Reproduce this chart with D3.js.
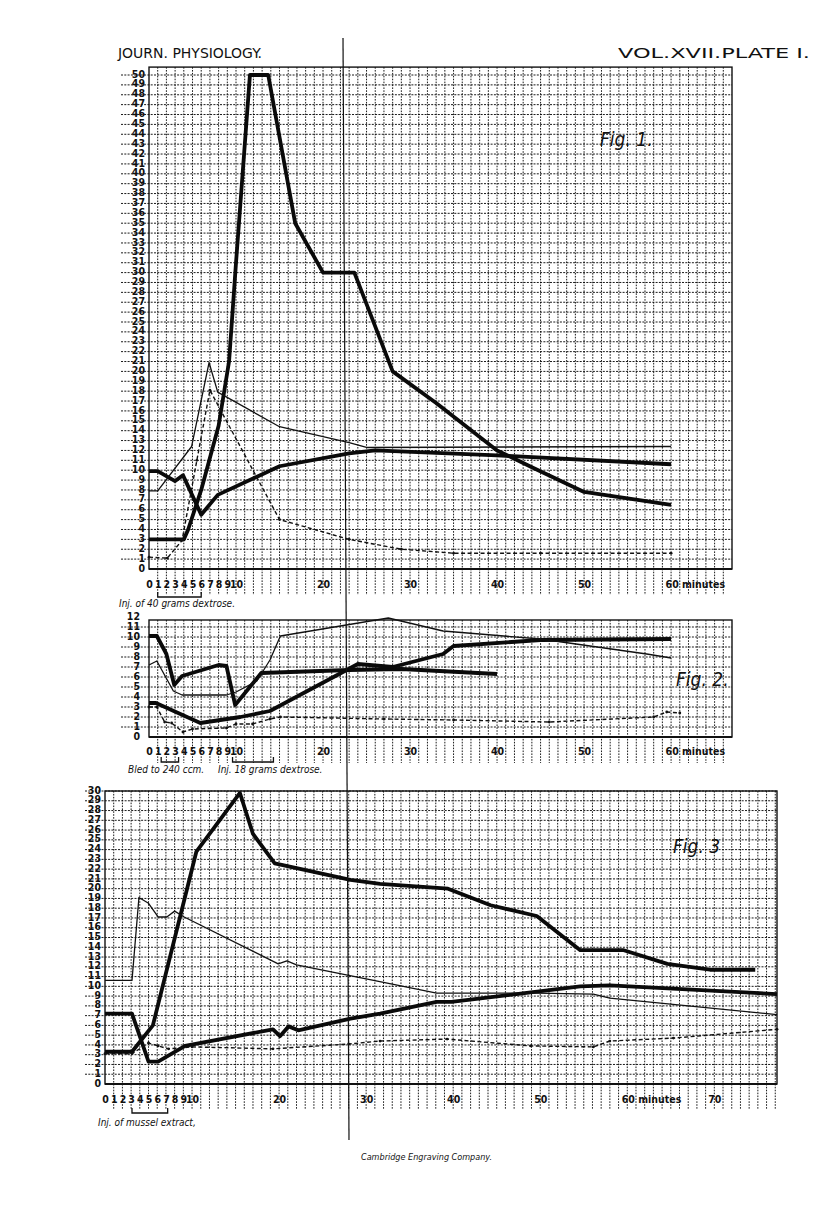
<!DOCTYPE html>
<html>
<head>
<meta charset="utf-8">
<script src="https://cdn.jsdelivr.net/npm/d3@7"></script>
<style>
  body { margin: 0; background: #fff; }
  svg { display: block; }
  .tick text { font-family: "DejaVu Sans Condensed", "Liberation Sans Narrow", "DejaVu Sans", sans-serif; font-weight: bold; fill: #111; }
  .note { font-family: "DejaVu Sans Condensed", "DejaVu Sans", sans-serif; font-style: italic; fill: #111; }
</style>
</head>
<body>
<svg width="816" height="1215"></svg>
<script>
// Fig. 1 : injection of 40 grams dextrose (minutes, value)
var fig1Big  = [[0,3],[4,3],[4.5,4],[6,8],[8,14.5],[9.2,21],[10,31],[11.6,50],[13.7,50],[16.8,35],[20,30],[23.6,30],[28,20],[33,16.8],[40,12],[44,10.3],[50,7.8],[60,6.5]];
var fig1Rise = [[0,9.9],[1,9.9],[3,8.9],[3.9,9.5],[6,5.5],[7.9,7.5],[15,10.4],[23,11.7],[26,12],[40,11.5],[60,10.6]];
var fig1Thin = [[0,7.9],[1,7.9],[4.9,12.4],[6.9,20.9],[7.9,17.9],[15,14.4],[23,12.8],[25,12.3],[60,12.4]];
var fig1Dash = [[0,1.2],[2.1,1.1],[3.8,2.9],[5.5,11],[7,18.1],[15,5],[23,3],[29,2],[35,1.6],[45,1.6],[60,1.6]];

// Fig. 2 : bled to 240 ccm, then 18 grams dextrose
var fig2Top    = [[0,10.1],[0.9,10.1],[2,8.3],[2.9,5.2],[3.8,6.1],[8,7.2],[8.9,7.1],[9.9,3.2],[12.9,6.4],[23,6.7],[29,6.8],[40,6.3]];
var fig2Bottom = [[0,3.4],[0.8,3.4],[5.9,1.4],[10.5,2.0],[13.9,2.6],[22.5,6.6],[24,7.3],[28,7.0],[33.8,8.3],[35,9.1],[45,9.7],[60,9.8]];
var fig2Thin   = [[0,7.2],[0.9,7.6],[2.8,4.6],[3.8,4.2],[8.9,4.2],[10,4.5],[12.4,5.6],[13.9,7.7],[15.1,10.1],[27.5,11.9],[33.8,10.6],[45,9.8],[57.2,8.3],[60,7.9]];
var fig2Dash   = [[0,3.0],[0.9,3.0],[1.8,1.5],[2.6,1.4],[3.9,0.5],[5,0.8],[8.9,0.9],[10,1.3],[11.9,1.3],[13.9,1.8],[15.1,2.0],[27,1.8],[35,1.7],[46,1.5],[58,2.0],[59.5,2.5],[61,2.4]];

// Fig. 3 : injection of mussel extract
var fig3Big  = [[0,3.3],[3.1,3.3],[5.5,6],[10.5,23.8],[15.5,29.8],[17,25.6],[19.5,22.6],[28.2,20.9],[31.6,20.5],[39.4,20],[44.3,18.3],[49.6,17.2],[54.6,13.7],[59.6,13.7],[64.6,12.3],[69.5,11.7],[74.7,11.7]];
var fig3Low  = [[0,7.2],[3.1,7.2],[5,2.3],[6.1,2.3],[9.2,3.9],[19.3,5.6],[20.1,4.9],[21.1,5.9],[22.2,5.5],[28.2,6.7],[31.6,7.2],[38.1,8.4],[39.8,8.4],[54.6,10],[58,10.1],[77.2,9.2]];
var fig3Thin = [[0,10.6],[3.1,10.6],[3.9,19.1],[5,18.5],[6.1,17.1],[7.1,17.1],[8,17.7],[9.1,17.1],[19.9,12.3],[20.9,12.6],[22,12.2],[32,10.4],[38.1,9.3],[49.6,9.3],[56.1,9.2],[58,8.8],[77.2,7.1]];
var fig3Dash = [[0,3.1],[3.1,3.1],[5,4.2],[6.1,3.9],[7.3,3.6],[10,3.8],[19.3,3.6],[28,4.1],[31.6,4.4],[39.3,4.6],[48.9,3.9],[56.1,3.8],[58,4.4],[65.3,4.7],[77.2,5.6]];

var minuteTicks12 = [0,1,2,3,4,5,6,7,8,9,10,20,30,40,50,60];
var minuteTicks3  = [0,1,2,3,4,5,6,7,8,9,10,20,30,40,50,60,70];

var svg = d3.select("svg");
svg.append("rect").attr("width", 816).attr("height", 1215).attr("fill", "#fff");

// draws one sheet of ruled paper with its curves
function panel(o) {
  var g = svg.append("g");
  var x = o.x, y = o.y;
  var x0 = x(0), x1 = x(o.tMax), yb = y(0), yt = y(o.vTop);

  // horizontal rulings, running out through the value labels
  g.append("g").selectAll("line").data(d3.range(1, Math.floor(o.vTop) + 1)).enter().append("line")
    .attr("x1", x0 - o.labelRun).attr("x2", x1)
    .attr("y1", function(d) { return y(d); }).attr("y2", function(d) { return y(d); })
    .attr("stroke", "#000").attr("stroke-width", 0.9).attr("stroke-dasharray", "2,1.3");

  // vertical rulings, running below the axis through the minute labels
  g.append("g").selectAll("line").data(d3.range(1, o.tMax)).enter().append("line")
    .attr("x1", function(d) { return x(d); }).attr("x2", function(d) { return x(d); })
    .attr("y1", yt).attr("y2", yb + 26)
    .attr("stroke", "#000").attr("stroke-width", 0.9).attr("stroke-dasharray", "1.6,1.3");

  g.append("rect").attr("x", x0).attr("y", yt).attr("width", x1 - x0).attr("height", yb - yt)
    .attr("fill", "none").attr("stroke", "#111").attr("stroke-width", 1.4);
  g.append("line").attr("x1", x0).attr("x2", x1).attr("y1", yb).attr("y2", yb)
    .attr("stroke", "#111").attr("stroke-width", 1.8);

  // value labels
  var ya = g.append("g").attr("transform", "translate(" + (x0 - o.labelGap) + ",0)")
    .call(d3.axisLeft(y).tickValues(d3.range(0, o.vLabelMax + 1)).tickSize(0).tickPadding(0).tickFormat(d3.format("d")));
  ya.select(".domain").remove();
  ya.selectAll("text").attr("font-size", 10.5).attr("dy", "0.2em");

  // minute labels
  var xa = g.append("g").attr("transform", "translate(0," + (yb + o.tickDrop) + ")")
    .call(d3.axisBottom(x).tickValues(o.ticks).tickSize(0).tickPadding(0).tickFormat(d3.format("d")));
  xa.select(".domain").remove();
  xa.selectAll("text").attr("font-size", 10.5).attr("dy", "0.7em");
  xa.selectAll(".tick").filter(function(d) { return d === 60; }).select("text")
    .attr("text-anchor", "start").attr("x", -6).text("60 minutes");

  var line = d3.line().x(function(d) { return x(d[0]); }).y(function(d) { return y(d[1]); });
  o.thick.forEach(function(s) {
    g.append("path").datum(s).attr("d", line).attr("fill", "none")
      .attr("stroke", "#0a0a0a").attr("stroke-width", 3.8).attr("stroke-linejoin", "round");
  });
  o.thin.forEach(function(s) {
    g.append("path").datum(s).attr("d", line).attr("fill", "none")
      .attr("stroke", "#111").attr("stroke-width", 1.3).attr("stroke-linejoin", "round");
  });
  o.dash.forEach(function(s) {
    g.append("path").datum(s).attr("d", line).attr("fill", "none")
      .attr("stroke", "#111").attr("stroke-width", 1.4).attr("stroke-dasharray", "4,2.5");
    g.append("g").selectAll("circle").data(s).enter().append("circle")
      .attr("cx", function(d) { return x(d[0]); }).attr("cy", function(d) { return y(d[1]); })
      .attr("r", 1.4).attr("fill", "#111");
  });

  // injection brackets and notes
  o.brackets.forEach(function(b) {
    var by = yb + o.bracketDrop;
    g.append("path")
      .attr("d", "M" + x(b[0]) + "," + (by - 5) + "V" + by + "H" + x(b[1]) + "V" + (by - 5))
      .attr("fill", "none").attr("stroke", "#111").attr("stroke-width", 1.3);
  });
  o.notes.forEach(function(n) {
    g.append("text").attr("class", "note").attr("x", n[0]).attr("y", yb + o.noteDrop)
      .attr("font-size", 10).text(n[1]);
  });

  g.append("text").attr("class", "note").attr("x", o.figAt[0]).attr("y", o.figAt[1])
    .attr("font-size", 19).text(o.fig);
  return g;
}

var xTop = d3.scaleLinear().domain([0, 67]).range([149, 732]);

panel({
  x: xTop, y: d3.scaleLinear().domain([0, 50]).range([569, 75]),
  tMax: 67, vTop: 50.8, vLabelMax: 50, labelRun: 28, labelGap: 4, tickDrop: 12,
  ticks: minuteTicks12,
  thick: [fig1Big, fig1Rise], thin: [fig1Thin], dash: [fig1Dash],
  brackets: [[1, 6]], bracketDrop: 28, noteDrop: 38,
  notes: [[119, "Inj. of 40 grams dextrose."]],
  fig: "Fig. 1.", figAt: [600, 146]
});

panel({
  x: xTop, y: d3.scaleLinear().domain([0, 12]).range([737, 617]),
  tMax: 67, vTop: 11.7, vLabelMax: 12, labelRun: 28, labelGap: 9, tickDrop: 11,
  ticks: minuteTicks12,
  thick: [fig2Top, fig2Bottom], thin: [fig2Thin], dash: [fig2Dash],
  brackets: [[1.4, 3.4], [9.6, 14.3]], bracketDrop: 25, noteDrop: 36,
  notes: [[128, "Bled to 240 ccm."], [218, "Inj. 18 grams dextrose."]],
  fig: "Fig. 2.", figAt: [676, 686]
});

panel({
  x: d3.scaleLinear().domain([0, 77.2]).range([105, 777]),
  y: d3.scaleLinear().domain([0, 30]).range([1084, 791]),
  tMax: 77.2, vTop: 30, vLabelMax: 30, labelRun: 20, labelGap: 4, tickDrop: 12,
  ticks: minuteTicks3,
  thick: [fig3Big, fig3Low], thin: [fig3Thin], dash: [fig3Dash],
  brackets: [[3.1, 7.2]], bracketDrop: 29, noteDrop: 42,
  notes: [[98, "Inj. of mussel extract,"]],
  fig: "Fig. 3", figAt: [673, 853]
});

// plate heading and engraver's line
svg.append("text").attr("x", 118).attr("y", 58)
  .attr("font-family", "'DejaVu Sans Condensed', 'DejaVu Sans', sans-serif").attr("font-size", 14)
  .attr("textLength", 144).attr("lengthAdjust", "spacingAndGlyphs").attr("fill", "#111").text("JOURN. PHYSIOLOGY.");
svg.append("text").attr("x", 618).attr("y", 58)
  .attr("font-family", "'DejaVu Sans Condensed', 'DejaVu Sans', sans-serif").attr("font-size", 14)
  .attr("textLength", 192).attr("lengthAdjust", "spacingAndGlyphs").attr("fill", "#111").text("VOL.XVII.PLATE I.");
svg.append("text").attr("class", "note").attr("x", 361).attr("y", 1160)
  .attr("font-size", 9).text("Cambridge Engraving Company.");

// fold line through the plate
svg.append("line").attr("x1", 343).attr("y1", 38).attr("x2", 349).attr("y2", 1140)
  .attr("stroke", "#111").attr("stroke-width", 1.2);
</script>
</body>
</html>
